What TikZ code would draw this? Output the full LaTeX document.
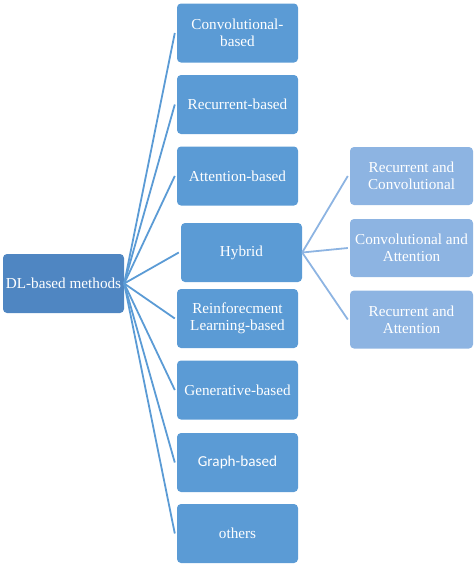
\documentclass[tikz,border=0pt]{standalone}
\usepackage{fontspec}
\setmainfont{Liberation Serif}
\newfontfamily\calib{Carlito}
\definecolor{mainblue}{HTML}{5B9BD5}
\definecolor{darkblue}{HTML}{4F86C2}
\definecolor{lightblue}{HTML}{8DB4E2}
\definecolor{lineblue}{HTML}{5B9BD5}
\definecolor{lightline}{HTML}{8DB4E2}
\begin{document}
\begin{tikzpicture}[x=1pt,y=-1pt,
  basebox/.style={rounded corners=4pt, text=white, align=center, inner sep=2pt,
    minimum width=121pt, minimum height=59pt, font=\fontsize{15.2}{17}\selectfont},
  mainbox/.style={basebox, fill=mainblue},
  rootbox/.style={basebox, fill=darkblue},
  subbox/.style={basebox, fill=lightblue, minimum width=123pt, minimum height=58pt},
  conn/.style={draw=lineblue, line width=1.8pt},
  subconn/.style={draw=lightline, line width=1.8pt}]
\useasboundingbox (0,0) rectangle (474,566);
\node[rootbox] (dl) at (63.5,283.5) {DL-based methods};
\node[mainbox] (conv) at (237.5,33) {Convolutional-\\based};
\node[mainbox] (rec) at (237.5,104.5) {Recurrent-based};
\node[mainbox] (att) at (237.5,176) {Attention-based};
\node[mainbox] (hyb) at (241.5,252.5) {Hybrid};
\node[mainbox] (rl) at (237.5,318.5) {Reinforecment\\Learning-based};
\node[mainbox] (gen) at (237.5,390) {Generative-based};
\node[mainbox] (graph) at (237.5,462.5) {\calib Graph-based};
\node[mainbox] (oth) at (237.5,533.5) {others};
\node[subbox] (rc) at (411.5,176) {Recurrent and\\Convolutional};
\node[subbox] (ca) at (411.5,248) {Convolutional and\\Attention};
\node[subbox] (ra) at (411.5,319.5) {Recurrent and\\Attention};
\foreach \t in {conv,rec,att,hyb,rl,gen,graph,oth}
  \draw[conn] (dl.east) -- ([xshift=-2pt]\t.west);
\foreach \t in {rc,ca,ra}
  \draw[subconn] (hyb.east) -- ([xshift=-2pt]\t.west);
\end{tikzpicture}
\end{document}
